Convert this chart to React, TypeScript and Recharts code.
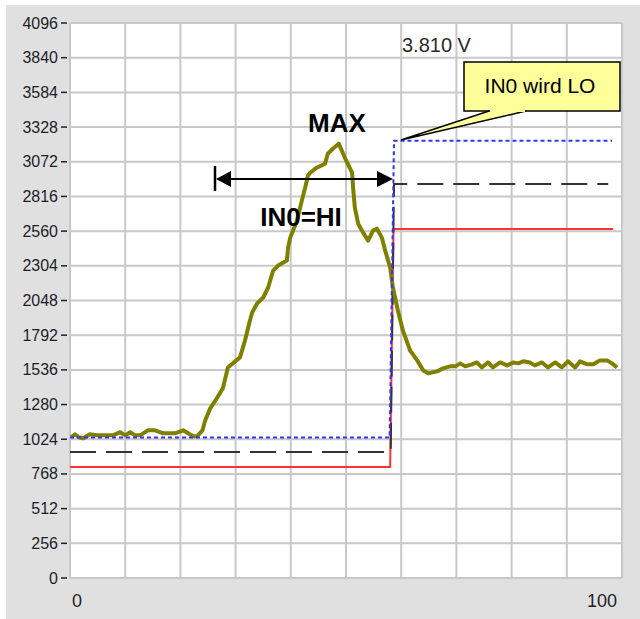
import React from 'react';
import { LineChart, Line, XAxis, YAxis, CartesianGrid } from 'recharts';

// ---- Data ----
const traceX = [
  0.2, 0.9, 1.6, 2.4, 3.6, 4.9, 7.8, 9.1, 10.0, 10.9, 11.8, 12.7, 14.1, 15.4, 16.9, 19.0,
  20.5, 21.4, 22.3, 23.0, 24.0, 24.5, 25.4, 26.6, 27.7, 28.6, 29.5, 30.8, 31.7, 32.6, 33.0,
  33.9, 35.0, 35.9, 36.8, 37.7, 39.3, 39.5, 39.9, 41.1, 42.0, 42.6, 43.1, 43.5, 44.7, 46.2,
  46.7, 47.6, 48.7, 49.8, 51.1, 51.3, 51.6, 52.2, 53.1, 54.0, 54.9, 55.6, 56.5, 57.1, 58.0,
  58.5, 59.4, 60.3, 61.6, 62.9, 64.0, 64.9, 66.5, 67.6, 68.8, 69.8, 70.7, 71.6, 72.8, 73.7,
  74.6, 75.7, 76.6, 77.9, 79.2, 80.3, 81.2, 82.1, 83.3, 84.2, 85.5, 86.6, 87.9, 89.1, 90.2,
  91.5, 92.4, 93.7, 94.8, 96.0, 97.3, 98.2, 99.1,
];
const traceY = [
  1039, 1061, 1039, 1031, 1061, 1053, 1053, 1076, 1053, 1076, 1053, 1053, 1090, 1090, 1068, 1068,
  1090, 1068, 1046, 1046, 1090, 1164, 1252, 1326, 1400, 1554, 1584, 1628, 1753, 1901, 1960,
  2026, 2070, 2144, 2269, 2306, 2343, 2438, 2512, 2637, 2785, 2880, 2969, 2991, 3028, 3057,
  3131, 3168, 3205, 3101, 2991, 2873, 2733, 2615, 2549, 2490, 2564, 2578, 2512, 2416, 2291,
  2144, 1974, 1827, 1680, 1606, 1532, 1510, 1525, 1547, 1562, 1562, 1584, 1562, 1577, 1591,
  1554, 1591, 1554, 1591, 1569, 1591, 1584, 1599, 1591, 1569, 1591, 1554, 1591, 1554, 1599,
  1554, 1599, 1577, 1577, 1606, 1606, 1584, 1554,
];

const redX = [0, 58.0, 58.6, 98.4];
const redY = [820, 820, 2576, 2576];
const blackX = [0, 58.1, 58.7, 97.5];
const blackY = [930, 930, 2908, 2908];
const blueX = [0, 57.9, 58.7, 98.2];
const blueY = [1036, 1036, 3227, 3227];

const yTicks = [0, 256, 512, 768, 1024, 1280, 1536, 1792, 2048, 2304, 2560, 2816, 3072, 3328, 3584, 3840, 4096];
const xGridTicks = [0, 10, 20, 30, 40, 50, 60, 70, 80, 90, 100];
const xLabelTicks = [0, 100];

const readoutText = '3.810 V';
const calloutText = 'IN0 wird LO';
const maxText = 'MAX';
const hiText = 'IN0=HI';

const zip = (xs: number[], ys: number[]) => xs.map((x, i) => ({ x, y: ys[i] }));
const traceData = zip(traceX, traceY);
const redData = zip(redX, redY);
const blackData = zip(blackX, blackY);
const blueData = zip(blueX, blueY);

const FONT = '"Liberation Sans", Arial, sans-serif';

const YTick = (props: any) => {
  const { x, y, payload } = props;
  return (
    <g>
      <line x1={x - 1} x2={x + 5} y1={y} y2={y} stroke="#222" strokeWidth={1.5} />
      <text x={x - 4} y={y} dy={5.5} textAnchor="end" fontSize={16} fontFamily={FONT} fill="#1e1e28">
        {payload.value}
      </text>
    </g>
  );
};

const XTick = (props: any) => {
  const { x, payload } = props;
  const v = payload.value;
  if (!xLabelTicks.includes(v)) return <g />;
  const isFirst = v === xLabelTicks[0];
  return (
    <text
      x={isFirst ? x + 2 : x - 5}
      y={607}
      textAnchor={isFirst ? 'start' : 'end'}
      fontSize={18}
      fontFamily={FONT}
      fill="#1e1e28"
    >
      {v}
    </text>
  );
};

export default function App() {
  return (
    <div style={{ position: 'absolute', left: 0, top: 0, width: 640, height: 619, background: '#fff', overflow: 'hidden' }}>
      <div style={{ position: 'absolute', left: 6, top: 5, width: 634, height: 614, background: '#e0e0e0' }} />
      <div style={{ position: 'absolute', left: 0, top: 0 }}>
        <LineChart width={640} height={619} margin={{ top: 23, right: 18, bottom: 11, left: 0 }}>
          <CartesianGrid stroke="#c8c8c8" strokeWidth={2} fill="#ffffff" fillOpacity={1} />
          <XAxis
            type="number"
            dataKey="x"
            domain={[0, 100]}
            ticks={xGridTicks}
            height={30}
            axisLine={false}
            tickLine={false}
            tick={<XTick />}
            interval={0}
          />
          <YAxis
            type="number"
            dataKey="y"
            domain={[0, 4096]}
            ticks={yTicks}
            width={70}
            axisLine={false}
            tickLine={false}
            tick={<YTick />}
            interval={0}
          />
          <Line data={redData} dataKey="y" type="linear" stroke="#ff3333" strokeWidth={2} dot={false} activeDot={false} isAnimationActive={false} />
          <Line data={blackData} dataKey="y" type="linear" stroke="#333333" strokeWidth={2} strokeDasharray="26 10" dot={false} activeDot={false} isAnimationActive={false} />
          <Line data={traceData} dataKey="y" type="linear" stroke="#808000" strokeWidth={4} strokeLinejoin="round" dot={false} activeDot={false} isAnimationActive={false} />
          <Line data={blueData} dataKey="y" type="linear" stroke="#3333ff" strokeWidth={2} strokeDasharray="4 3" dot={false} activeDot={false} isAnimationActive={false} />
        </LineChart>
      </div>
      <svg width={640} height={619} style={{ position: 'absolute', left: 0, top: 0, pointerEvents: 'none' }}>
        <text x={402} y={52} fontSize={20} fontFamily={FONT} fill="#302a28">{readoutText}</text>
        {/* callout */}
        <rect x={464} y={62} width={156} height={49} fill="#ffff99" stroke="#000" strokeWidth={1.5} />
        <polygon points="489,111 526,111 401,140" fill="#ffff99" stroke="#000" strokeWidth={1.5} strokeLinejoin="miter" />
        <line x1={490} x2={525} y1={111} y2={111} stroke="#ffff99" strokeWidth={2} />
        <text x={540} y={93} textAnchor="middle" fontSize={21} fontFamily={FONT} fill="#000">{calloutText}</text>
        {/* labels */}
        <text x={337} y={132} textAnchor="middle" fontSize={26} fontWeight="bold" fontFamily={FONT} fill="#000">{maxText}</text>
        <text x={301} y={226} textAnchor="middle" fontSize={26} fontWeight="bold" fontFamily={FONT} fill="#000">{hiText}</text>
        {/* double arrow */}
        <line x1={215} x2={215} y1={166} y2={191} stroke="#000" strokeWidth={2.5} />
        <line x1={222} x2={386} y1={179} y2={179} stroke="#000" strokeWidth={2} />
        <polygon points="216,179 231,171 231,187" fill="#000" />
        <polygon points="393,179 377,171 377,187" fill="#000" />
      </svg>
    </div>
  );
}
